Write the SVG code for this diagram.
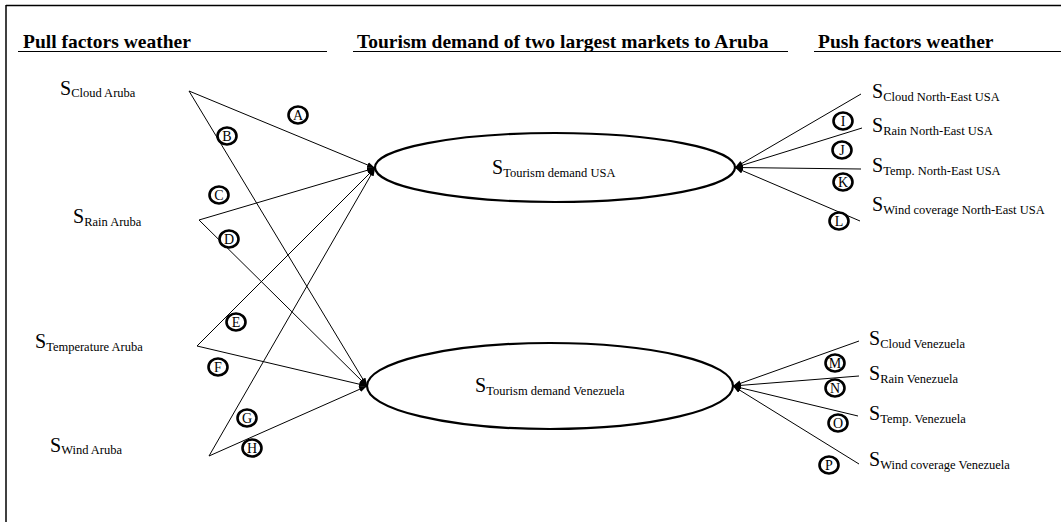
<svg xmlns="http://www.w3.org/2000/svg" width="1061" height="522" viewBox="0 0 1061 522">
<style>
text{font-family:"Liberation Serif","Times New Roman",serif;fill:#000}
.h{font-size:19.5px;font-weight:bold}
.s{font-size:20px}
.sub{font-size:12.5px}
.lbl{font-size:14px;text-anchor:middle}
.ln{stroke:#000;stroke-width:1;fill:none}
.ul{stroke:#000;stroke-width:1.2}
.el{fill:none;stroke:#000;stroke-width:2.2}
.c{fill:#fff;stroke:#000;stroke-width:2.6}
</style>
<defs>
<marker id="ah" markerUnits="userSpaceOnUse" markerWidth="9" markerHeight="7" refX="8" refY="3" orient="auto">
<path d="M0,0 L8,3 L0,6 z" fill="#000"/>
</marker>
</defs>
<g id="frame">
<line x1="6" y1="5.5" x2="1061" y2="5.5" stroke="#000" stroke-width="1.5"/>
<line x1="6" y1="5" x2="6" y2="522" stroke="#000" stroke-width="1.5"/>
</g>
<g id="headers">
<text class="h" x="23" y="48">Pull factors weather</text>
<line class="ul" x1="18" y1="51.5" x2="327" y2="51.5"/>
<text class="h" x="357" y="48">Tourism demand of two largest markets to Aruba</text>
<line class="ul" x1="353" y1="51.5" x2="788" y2="51.5"/>
<text class="h" x="818" y="48">Push factors weather</text>
<line class="ul" x1="814" y1="51.5" x2="1061" y2="51.5"/>
</g>
<g id="connectors">
<line class="ln" x1="189" y1="91" x2="375" y2="168" marker-end="url(#ah)"/>
<line class="ln" x1="189" y1="91" x2="367" y2="386" marker-end="url(#ah)"/>
<line class="ln" x1="199" y1="220" x2="375" y2="168" marker-end="url(#ah)"/>
<line class="ln" x1="199" y1="220" x2="367" y2="386" marker-end="url(#ah)"/>
<line class="ln" x1="197" y1="346" x2="375" y2="168" marker-end="url(#ah)"/>
<line class="ln" x1="197" y1="346" x2="367" y2="386" marker-end="url(#ah)"/>
<line class="ln" x1="209" y1="456" x2="375" y2="168" marker-end="url(#ah)"/>
<line class="ln" x1="209" y1="456" x2="367" y2="386" marker-end="url(#ah)"/>
<line class="ln" x1="861" y1="94" x2="735" y2="167.5" marker-end="url(#ah)"/>
<line class="ln" x1="862" y1="128" x2="735" y2="167.5" marker-end="url(#ah)"/>
<line class="ln" x1="861" y1="169" x2="735" y2="167.5" marker-end="url(#ah)"/>
<line class="ln" x1="860" y1="221" x2="735" y2="167.5" marker-end="url(#ah)"/>
<line class="ln" x1="859" y1="341" x2="733" y2="386" marker-end="url(#ah)"/>
<line class="ln" x1="859" y1="376" x2="733" y2="386" marker-end="url(#ah)"/>
<line class="ln" x1="858" y1="416" x2="733" y2="386" marker-end="url(#ah)"/>
<line class="ln" x1="859" y1="464" x2="733" y2="386" marker-end="url(#ah)"/>
</g>
<g id="node-usa">
<ellipse class="el" cx="555" cy="167.5" rx="180" ry="34.5"/>
<text class="s" x="492" y="174">S<tspan class="sub" dy="3">Tourism demand USA</tspan></text>
</g>
<g id="node-venezuela">
<ellipse class="el" cx="550" cy="386" rx="183" ry="43"/>
<text class="s" x="475" y="392">S<tspan class="sub" dy="3">Tourism demand Venezuela</tspan></text>
</g>
<g id="node-cloud-aruba"><text class="s" x="60" y="95">S<tspan class="sub" dy="2">Cloud Aruba</tspan></text></g>
<g id="node-rain-aruba"><text class="s" x="73" y="223">S<tspan class="sub" dy="3">Rain Aruba</tspan></text></g>
<g id="node-temp-aruba"><text class="s" x="35" y="348">S<tspan class="sub" dy="3">Temperature Aruba</tspan></text></g>
<g id="node-wind-aruba"><text class="s" x="50" y="452">S<tspan class="sub" dy="2">Wind Aruba</tspan></text></g>
<g id="node-cloud-ne"><text class="s" x="872" y="98">S<tspan class="sub" dy="3">Cloud North-East USA</tspan></text></g>
<g id="node-rain-ne"><text class="s" x="872" y="132">S<tspan class="sub" dy="3">Rain North-East USA</tspan></text></g>
<g id="node-temp-ne"><text class="s" x="872" y="172">S<tspan class="sub" dy="3">Temp. North-East USA</tspan></text></g>
<g id="node-wind-ne"><text class="s" x="872" y="211">S<tspan class="sub" dy="3">Wind coverage  North-East USA</tspan></text></g>
<g id="node-cloud-ve"><text class="s" x="869" y="345">S<tspan class="sub" dy="3">Cloud Venezuela</tspan></text></g>
<g id="node-rain-ve"><text class="s" x="869" y="380">S<tspan class="sub" dy="3">Rain Venezuela</tspan></text></g>
<g id="node-temp-ve"><text class="s" x="869" y="420">S<tspan class="sub" dy="3">Temp. Venezuela</tspan></text></g>
<g id="node-wind-ve"><text class="s" x="869" y="466">S<tspan class="sub" dy="3">Wind coverage  Venezuela</tspan></text></g>
<g id="labels">
<g id="lbl-A"><ellipse class="c" cx="298" cy="115" rx="9.5" ry="8.5"/><text class="lbl" x="298" y="120">A</text></g>
<g id="lbl-B"><ellipse class="c" cx="227" cy="136" rx="9.5" ry="8.5"/><text class="lbl" x="227" y="141">B</text></g>
<g id="lbl-C"><ellipse class="c" cx="219" cy="195" rx="9.5" ry="8.5"/><text class="lbl" x="219" y="200">C</text></g>
<g id="lbl-D"><ellipse class="c" cx="229" cy="239" rx="9.5" ry="8.5"/><text class="lbl" x="229" y="244">D</text></g>
<g id="lbl-E"><ellipse class="c" cx="236" cy="322" rx="9.5" ry="8.5"/><text class="lbl" x="236" y="327">E</text></g>
<g id="lbl-F"><ellipse class="c" cx="218" cy="367" rx="9.5" ry="8.5"/><text class="lbl" x="218" y="372">F</text></g>
<g id="lbl-G"><ellipse class="c" cx="247" cy="418" rx="9.5" ry="8.5"/><text class="lbl" x="247" y="423">G</text></g>
<g id="lbl-H"><ellipse class="c" cx="252" cy="448" rx="9.5" ry="8.5"/><text class="lbl" x="252" y="453">H</text></g>
<g id="lbl-I"><ellipse class="c" cx="843" cy="121" rx="9.5" ry="8.5"/><text class="lbl" x="843" y="126">I</text></g>
<g id="lbl-J"><ellipse class="c" cx="842" cy="150" rx="9.5" ry="8.5"/><text class="lbl" x="842" y="155">J</text></g>
<g id="lbl-K"><ellipse class="c" cx="843" cy="182" rx="9.5" ry="8.5"/><text class="lbl" x="843" y="187">K</text></g>
<g id="lbl-L"><ellipse class="c" cx="839" cy="221" rx="9.5" ry="8.5"/><text class="lbl" x="839" y="226">L</text></g>
<g id="lbl-M"><ellipse class="c" cx="835" cy="363" rx="9.5" ry="8.5"/><text class="lbl" x="835" y="368">M</text></g>
<g id="lbl-N"><ellipse class="c" cx="835" cy="388" rx="9.5" ry="8.5"/><text class="lbl" x="835" y="393">N</text></g>
<g id="lbl-O"><ellipse class="c" cx="838" cy="423" rx="9.5" ry="8.5"/><text class="lbl" x="838" y="428">O</text></g>
<g id="lbl-P"><ellipse class="c" cx="829" cy="465" rx="9.5" ry="8.5"/><text class="lbl" x="829" y="470">P</text></g>
</g>
</svg>
